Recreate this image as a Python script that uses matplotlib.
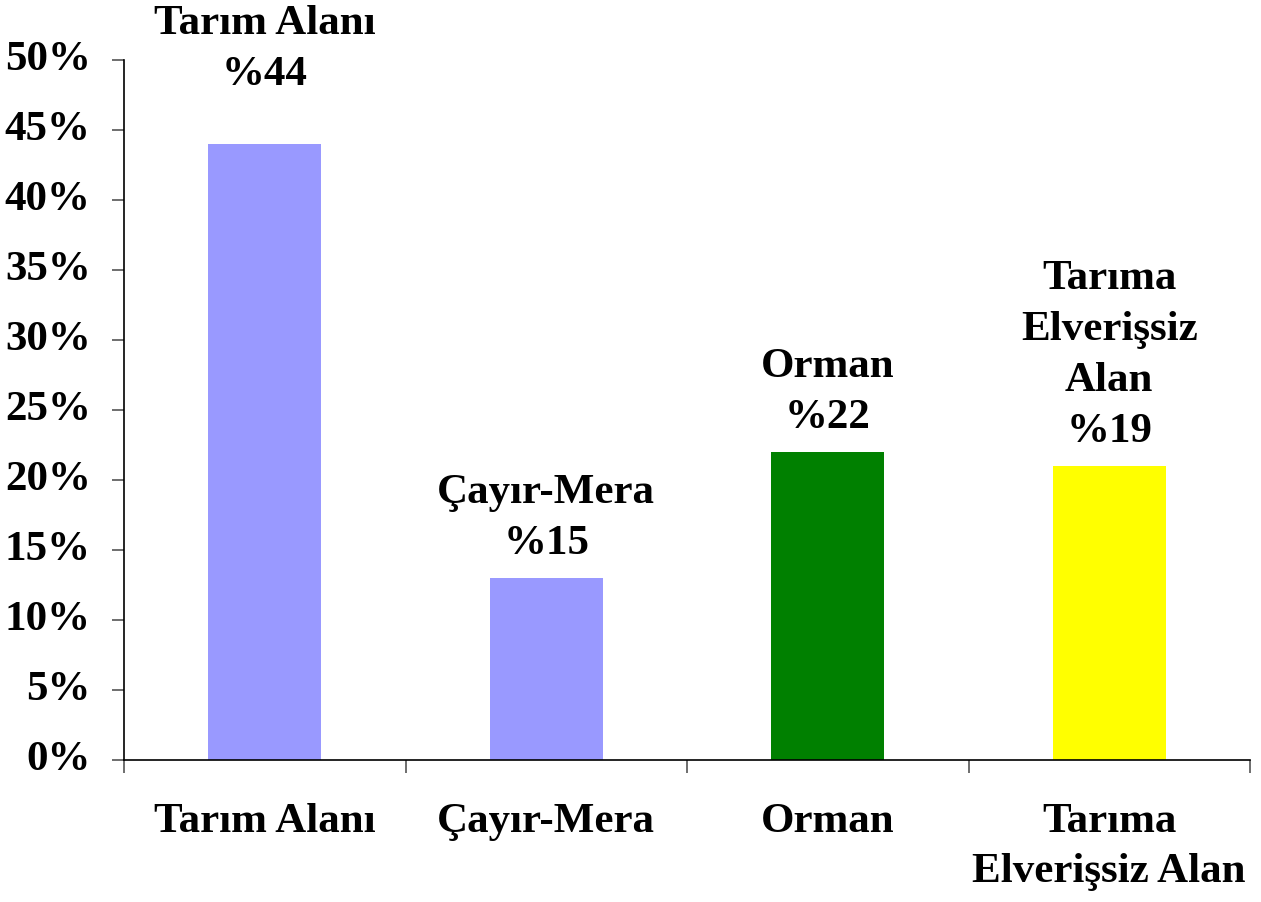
import matplotlib.pyplot as plt
import numpy as np

# data
categories = ['Tarım Alanı', 'Çayır-Mera', 'Orman', 'Tarıma\nElverişsiz Alan']
values = [44, 13, 22, 21]
bar_labels = ['Tarım Alanı\n%44', 'Çayır-Mera\n%15', 'Orman\n%22', 'Tarıma\nElverişsiz\nAlan\n%19']
colors = ['#9999FF', '#9999FF', '#008000', '#FFFF00']
yticks = [0, 5, 10, 15, 20, 25, 30, 35, 40, 45, 50]

plt.rcParams['font.family'] = ['Liberation Serif', 'DejaVu Serif']
plt.rcParams['font.weight'] = 'bold'
fs = 31

fig = plt.figure(figsize=(12.61, 9.02), dpi=100)
ax = fig.add_axes([124 / 1261, 142 / 902, 1126 / 1261, 700 / 902])

x = np.arange(len(categories))
ax.bar(x, values, width=0.40, color=colors)

# label above each bar; the first one sits higher in the original
for i, (v, lab) in enumerate(zip(values, bar_labels)):
    y = 48.2 if i == 0 else v + 1.7
    ax.text(i, y, lab, ha='center', va='baseline', fontsize=fs,
            fontweight='bold', linespacing=1.45)

ax.set_xlim(-0.5, len(categories) - 0.5)
ax.set_ylim(0, 50)
ax.set_yticks(yticks)
ax.set_yticklabels([f'{t}%' for t in yticks], fontsize=fs, fontweight='bold')

ax.set_xticks(x)
ax.set_xticklabels(categories, fontsize=fs, fontweight='bold', linespacing=1.42)
ax.set_xticks(np.arange(len(categories) + 1) - 0.5, minor=True)
ax.tick_params(axis='x', which='major', length=0, pad=31)
ax.tick_params(axis='x', which='minor', length=9, width=1.2, color='#555555')
ax.tick_params(axis='y', length=9, width=1.2, color='#555555', pad=15)

for s in ['top', 'right']:
    ax.spines[s].set_visible(False)
ax.spines['left'].set_linewidth(1.2)
ax.spines['bottom'].set_linewidth(1.2)
for lab in ax.get_yticklabels():
    lab.set_verticalalignment('center')

fig.savefig('out.png', dpi=100)
